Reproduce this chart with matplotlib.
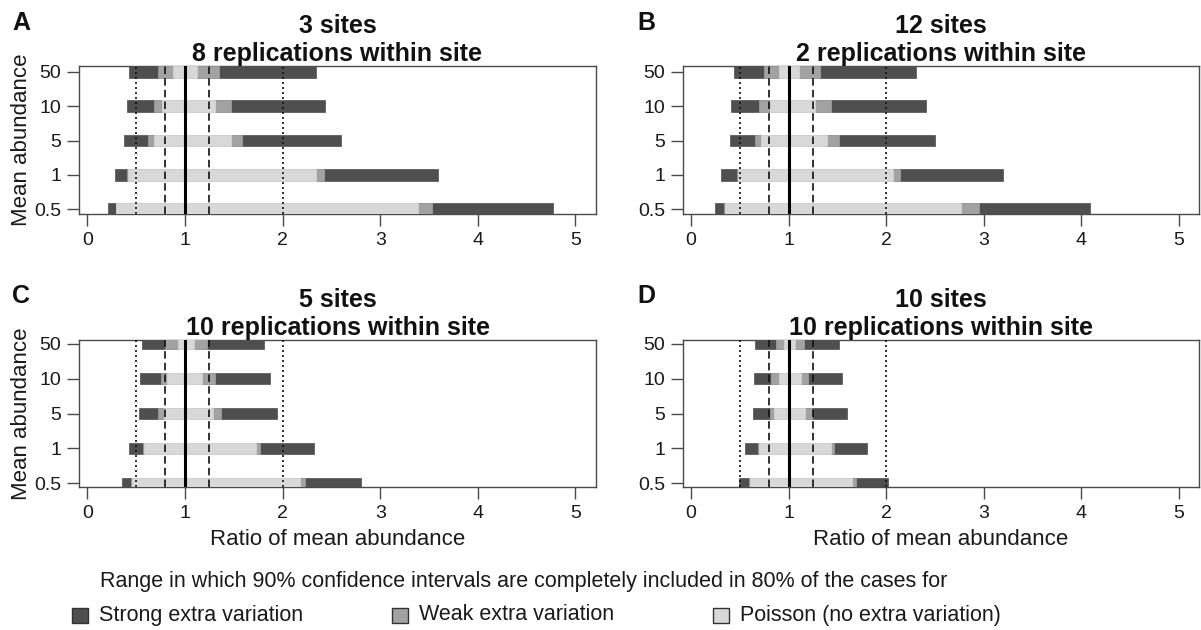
import matplotlib
matplotlib.use("Agg")
import matplotlib.pyplot as plt
from matplotlib.patches import Rectangle

plt.rcParams['font.family'] = ['Liberation Sans', 'DejaVu Sans']

# ---------------- data ----------------
abundance = ["0.5", "1", "5", "10", "50"]
ref_dotted = [0.5, 2.0]
ref_dashed = [0.8, 1.25]
ref_solid = [1.0]
xticks = [0, 1, 2, 3, 4, 5]

titles = ["3 sites\n8 replications within site",
          "12 sites\n2 replications within site",
          "5 sites\n10 replications within site",
          "10 sites\n10 replications within site"]
letters = ["A", "B", "C", "D"]

# values ordered as abundance (0.5, 1, 5, 10, 50)
A_strong_lo = [0.21, 0.28, 0.38, 0.41, 0.43]
A_strong_hi = [4.77, 3.59, 2.60, 2.44, 2.34]
A_weak_lo = [0.29, 0.41, 0.62, 0.68, 0.73]
A_weak_hi = [3.53, 2.42, 1.59, 1.47, 1.35]
A_pois_lo = [0.29, 0.42, 0.68, 0.77, 0.88]
A_pois_hi = [3.39, 2.34, 1.47, 1.31, 1.12]

B_strong_lo = [0.24, 0.31, 0.40, 0.41, 0.44]
B_strong_hi = [4.09, 3.20, 2.50, 2.41, 2.31]
B_weak_lo = [0.34, 0.47, 0.65, 0.70, 0.75]
B_weak_hi = [2.95, 2.14, 1.52, 1.43, 1.32]
B_pois_lo = [0.35, 0.48, 0.72, 0.81, 0.90]
B_pois_hi = [2.77, 2.07, 1.39, 1.27, 1.11]

C_strong_lo = [0.36, 0.43, 0.53, 0.54, 0.56]
C_strong_hi = [2.80, 2.32, 1.94, 1.87, 1.81]
C_weak_lo = [0.45, 0.57, 0.73, 0.76, 0.80]
C_weak_hi = [2.23, 1.77, 1.37, 1.31, 1.23]
C_pois_lo = [0.46, 0.58, 0.79, 0.82, 0.93]
C_pois_hi = [2.18, 1.73, 1.29, 1.18, 1.09]

D_strong_lo = [0.49, 0.55, 0.63, 0.64, 0.65]
D_strong_hi = [2.02, 1.80, 1.60, 1.55, 1.52]
D_weak_lo = [0.59, 0.69, 0.81, 0.82, 0.87]
D_weak_hi = [1.69, 1.47, 1.24, 1.20, 1.16]
D_pois_lo = [0.60, 0.70, 0.85, 0.90, 0.95]
D_pois_hi = [1.65, 1.43, 1.17, 1.13, 1.06]

panels = [
    (A_strong_lo, A_strong_hi, A_weak_lo, A_weak_hi, A_pois_lo, A_pois_hi),
    (B_strong_lo, B_strong_hi, B_weak_lo, B_weak_hi, B_pois_lo, B_pois_hi),
    (C_strong_lo, C_strong_hi, C_weak_lo, C_weak_hi, C_pois_lo, C_pois_hi),
    (D_strong_lo, D_strong_hi, D_weak_lo, D_weak_hi, D_pois_lo, D_pois_hi),
]

legend_title = "Range in which 90% confidence intervals are completely included in 80% of the cases for"
legend_labels = ["Strong extra variation", "Weak extra variation", "Poisson (no extra variation)"]

# ---------------- style ----------------
c_strong = "#4f4f4f"
c_weak = "#a2a2a2"
c_pois = "#d8d8d8"
c_frame = "#4a4a4a"
c_text = "#1a1a1a"

W, H = 1201, 630
fig = plt.figure(figsize=(W / 100, H / 100), dpi=100)

def px_axes(l, t, r, b):
    return [l / W, 1 - b / H, (r - l) / W, (b - t) / H]

boxes = [px_axes(79, 66, 596, 214), px_axes(683, 66, 1199, 214),
         px_axes(79, 340, 596, 487), px_axes(683, 340, 1199, 487)]
ylims = [(-0.14, 4.17), (-0.14, 4.17), (-0.115, 4.115), (-0.115, 4.115)]
bar_h = [0.34, 0.34, 0.31, 0.31]

ypos = list(range(len(abundance)))

for i, (box, data) in enumerate(zip(boxes, panels)):
    s_lo, s_hi, w_lo, w_hi, p_lo, p_hi = data
    ax = fig.add_axes(box)
    h = bar_h[i]
    ax.barh(ypos, [hi - lo for lo, hi in zip(s_lo, s_hi)], left=s_lo, height=h,
            color=c_strong, edgecolor=c_strong, linewidth=0.5, zorder=3)
    ax.barh(ypos, [hi - lo for lo, hi in zip(w_lo, w_hi)], left=w_lo, height=h,
            color=c_weak, edgecolor=c_weak, linewidth=0.5, zorder=3.1)
    ax.barh(ypos, [hi - lo for lo, hi in zip(p_lo, p_hi)], left=p_lo, height=h,
            color=c_pois, edgecolor=c_pois, linewidth=0.5, zorder=3.2)
    for v in ref_dotted:
        ax.axvline(v, color="#111111", lw=1.2, ls=(0, (1.2, 1.8)), zorder=4)
    for v in ref_dashed:
        ax.axvline(v, color="#111111", lw=1.2, ls=(0, (4.5, 2.5)), zorder=4)
    for v in ref_solid:
        ax.axvline(v, color="#000000", lw=2.2, zorder=4)
    ax.set_xlim(-0.084, 5.21)
    ax.set_ylim(*ylims[i])
    ax.set_xticks(xticks)
    ax.set_xticklabels([str(t) for t in xticks])
    ax.set_yticks(ypos)
    ax.set_yticklabels(abundance)
    ax.tick_params(axis="both", direction="out", length=8.5, width=1.0,
                   color=c_frame, labelsize=14, labelcolor=c_text, pad=4.5)
    for sp in ax.spines.values():
        sp.set_color(c_frame)
        sp.set_linewidth(1.0)
        sp.set_zorder(2.5)
    ax.set_title(titles[i], fontsize=18, fontweight="bold", pad=3,
                 linespacing=1.2, color="#111111")
    if i in (0, 2):
        ax.set_ylabel("Mean abundance", fontsize=16, color=c_text)
        ax.yaxis.set_label_coords(-0.0915, 0.5)
    if i in (2, 3):
        ax.set_xlabel("Ratio of mean abundance", fontsize=16, color=c_text)
        ax.xaxis.set_label_coords(0.5, -0.286)

# panel letters
for letter, (x, y) in zip(letters, [(12, 30), (637, 30), (12, 303), (637, 303)]):
    fig.text(x / W, 1 - y / H, letter, fontsize=18, fontweight="bold",
             va="baseline", ha="left", color="#111111")

# legend (manual)
fig.text(100 / W, 1 - 582 / H, legend_title, fontsize=15.5, va="center", ha="left",
         color=c_text)
sq_x = [72, 392, 713]
for x, lab, c in zip(sq_x, legend_labels, [c_strong, c_weak, c_pois]):
    fig.patches.append(Rectangle((x / W, 1 - 623 / H), 16 / W, 15 / H,
                                 transform=fig.transFigure, facecolor=c,
                                 edgecolor="#333333", linewidth=1.0))
    fig.text((x + 27) / W, 1 - 615 / H, lab, fontsize=15.5, va="center", ha="left",
             color=c_text)

fig.savefig("out.png", dpi=100)
